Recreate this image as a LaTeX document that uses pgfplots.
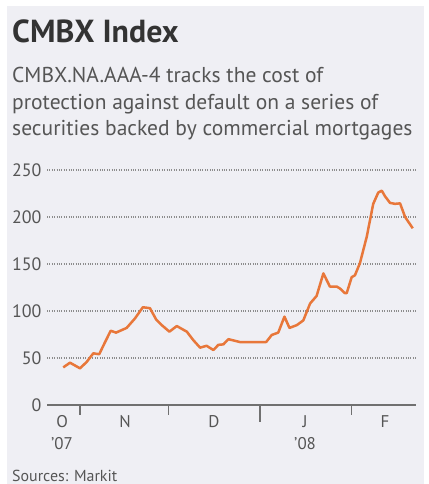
\documentclass[border=0pt]{standalone}
\usepackage{fontspec}
\setmainfont{PT Sans}
\usepackage{pgfplots}
\pgfplotsset{compat=1.18}
\usepackage{pgfplotstable}
\definecolor{panel}{HTML}{EFEFF4}
\definecolor{cmbx}{HTML}{E8773A}
\definecolor{inkgrey}{HTML}{555555}
\definecolor{gridgrey}{HTML}{8C8C8C}

% day 0 = 1 Oct 2007
\pgfplotstableread{
day   value
25.3  40
27.6  45
31.0  39
33.3  46
35.5  55
37.5  54
39.5  67
41.4  79
43.2  77
46.8  82
49.6  92
52.3  104
54.7  103
56.8  91
58.7  85
61.3  78
63.8  84
67.2  78
69.4  69
71.7  61
73.9  63
76.2  58.5
77.9  64
79.6  64.5
81.3  70
85.2  67
89.7  67
94.1  67
96.0  74.5
98.2  77
100.3 94
102.0 82
104.5 85
106.7 90
109.0 108
111.2 116
113.5 140
115.7 126
118.0 126
119.1 124
120.8 119
121.4 119
123.1 136
124.2 138
125.9 151
128.2 179
130.4 214
132.1 226
133.3 228
134.4 222
136.1 215
137.8 214
139.5 214.5
141.2 200
143.8 188
}\cmbxdata

\begin{document}
\begin{tikzpicture}
\fill[white] (0bp,0bp) rectangle (429bp,484bp);
\fill[panel] (7bp,0bp) rectangle (424bp,478bp);
\node[anchor=base west, inner sep=0, text=black!80,
  font=\fontsize{32}{32}\selectfont\bfseries] at (12bp,441bp) {CMBX Index};
\node[anchor=base west, inner sep=0, text=inkgrey,
  font=\fontsize{21.6}{26.5}\selectfont] at (12bp,401bp)
  {CMBX.NA.AAA-4 tracks the cost of};
\node[anchor=base west, inner sep=0, text=inkgrey,
  font=\fontsize{21.6}{26.5}\selectfont] at (12bp,374bp)
  {protection against default on a series of};
\node[anchor=base west, inner sep=0, text=inkgrey,
  font=\fontsize{21.6}{26.5}\selectfont] at (12bp,348bp)
  {securities backed by commercial mortgages};
\node[anchor=base west, inner sep=0, text=inkgrey,
  font=\fontsize{16}{16}\selectfont] at (12bp,3bp) {Sources: Markit};

\begin{axis}[
  at={(47bp,79bp)}, anchor=south west,
  scale only axis, width=369bp, height=235bp,
  xmin=19.8, xmax=144.9, ymin=0, ymax=250,
  axis x line=bottom, axis y line=left,
  x axis line style={gridgrey!80!black, line width=1.6bp, -},
  y axis line style={draw=none},
  ytick={0,50,...,250},
  y tick style={draw=none},
  ymajorgrids, grid style={dotted, gridgrey, line width=1.2bp},
  /pgf/number format/assume math mode=true,
  yticklabel style={font=\fontsize{18}{18}\selectfont, text=inkgrey, xshift=-2bp},
  xtick={24.9,46.3,76.4,107.3,134.4},
  xticklabels={O\\'07, N, D, J\\'08, F},
  xticklabel style={font=\fontsize{17}{22}\selectfont, text=inkgrey, align=center, yshift=-7bp},
  major tick length=0pt,
  minor xtick={31,61,92,123},
  minor tick length=10bp, tick align=outside,
  minor x tick style={gridgrey!80!black, line width=1.4bp},
  clip=false,
]
\addplot[cmbx, line width=2.5bp, line join=round] table[x=day, y=value] {\cmbxdata};
\draw[gridgrey!80!black, line width=1.4bp] (axis cs:92,0) -- ([yshift=-17bp]axis cs:92,0);
\end{axis}
\end{tikzpicture}
\end{document}
